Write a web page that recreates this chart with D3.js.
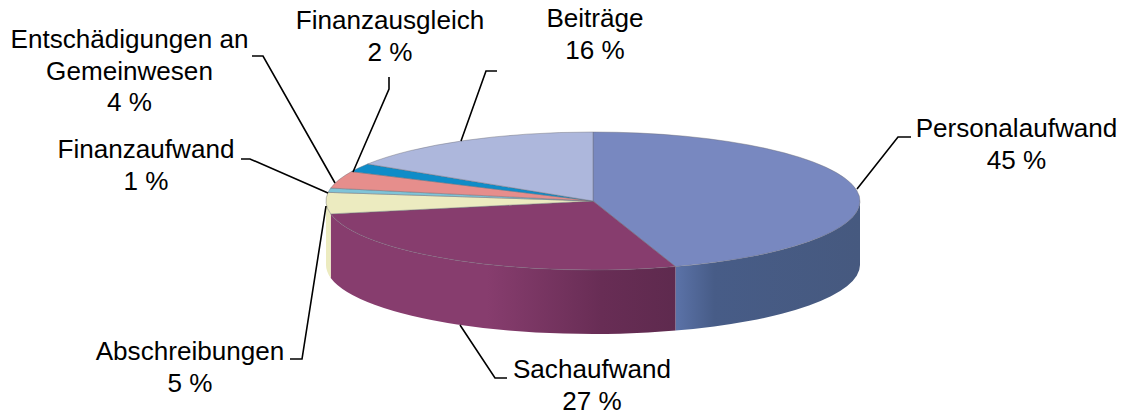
<!DOCTYPE html>
<html>
<head>
<meta charset="utf-8">
<script src="https://cdn.jsdelivr.net/npm/d3@7"></script>
<style>
  html, body { margin: 0; padding: 0; background: #fff; }
  svg { display: block; }
  text { font-family: "Liberation Sans", Arial, sans-serif; font-size: 26.1px; fill: #000; }
</style>
</head>
<body>
<div id="chart"></div>
<script>
const categories = ["Personalaufwand", "Sachaufwand", "Abschreibungen", "Finanzaufwand", "Entschädigungen an Gemeinwesen", "Finanzausgleich", "Beiträge"];
const values = [45, 27, 5, 1, 4, 2, 16];
const topColors = ["#7888c0", "#873d6e", "#ecebc0", "#7fc4d8", "#e68e8c", "#0f8cc8", "#adb7dc"];

// label lines as typed, value goes underneath
const labelLines = [["Personalaufwand"], ["Sachaufwand"], ["Abschreibungen"], ["Finanzaufwand"], ["Entschädigungen an", "Gemeinwesen"], ["Finanzausgleich"], ["Beiträge"]];
const labelX = [1016.5, 592, 190, 146, 129.5, 390, 595];
const labelY = [137, 378, 360, 158, 48, 29, 27];

const width = 1126;
const height = 415;
const cx = 593, cy = 201, rx = 267, ry = 69, depth = 64;

const svg = d3.select("#chart").append("svg")
    .attr("width", width)
    .attr("height", height);

const pie = d3.pie().sort(null);
const slices = pie(values);

// circle angle (0 = top, clockwise) to flattened ellipse
const px = a => cx + rx * Math.sin(a);
const py = a => cy - ry * Math.cos(a);

// side wall gradients
const defs = svg.append("defs");
function wallGradient(id, x1, x2, stops) {
    const g = defs.append("linearGradient")
        .attr("id", id)
        .attr("gradientUnits", "userSpaceOnUse")
        .attr("x1", x1).attr("x2", x2)
        .attr("y1", 0).attr("y2", 0);
    stops.forEach(s => g.append("stop").attr("offset", s[0]).attr("stop-color", s[1]));
}
wallGradient("wallPersonal", 678, 860, [[0, "#5a71a6"], [0.2, "#475c87"], [1, "#46597f"]]);
wallGradient("wallSach", 330, 678, [[0, "#873d6e"], [0.45, "#873d6e"], [0.78, "#682d55"], [1, "#5e2a4e"]]);

function wallPath(a0, a1) {
    let d = `M${px(a0)},${py(a0)}`;
    d += `A${rx},${ry} 0 0 1 ${px(a1)},${py(a1)}`;
    d += `L${px(a1)},${py(a1) + depth}`;
    d += `A${rx},${ry} 0 0 0 ${px(a0)},${py(a0) + depth}Z`;
    return d;
}

// only the front half shows a wall
const wallFills = ["url(#wallPersonal)", "url(#wallSach)", "#ecebc0"];
[0, 1, 2].forEach(i => {
    const a0 = Math.max(slices[i].startAngle, i === 0 ? Math.PI / 2 : 0);
    const a1 = Math.min(slices[i].endAngle, Math.PI * 1.5);
    svg.append("path")
        .attr("d", wallPath(a0, a1))
        .attr("fill", wallFills[i]);
});

// top face
svg.append("g")
    .selectAll("path")
    .data(slices)
    .join("path")
    .attr("d", d => {
        return `M${cx},${cy}L${px(d.startAngle)},${py(d.startAngle)}` +
            `A${rx},${ry} 0 ${d.endAngle - d.startAngle > Math.PI ? 1 : 0} 1 ${px(d.endAngle)},${py(d.endAngle)}Z`;
    })
    .attr("fill", (d, i) => topColors[i])
    .attr("stroke", "#6e6e78")
    .attr("stroke-opacity", 0.55)
    .attr("stroke-width", 0.8)
    .attr("stroke-linejoin", "round");

// leader lines
const leaderLines = [
    [[857, 189], [898, 137], [911, 137]],
    [[460, 325], [495, 378], [507, 378]],
    [[326, 206], [302, 359], [290, 359]],
    [[328, 193], [250, 159], [241, 159]],
    [[335, 183], [263, 56], [252, 56]],
    [[353, 172], [389, 89], [389, 77]],
    [[461, 141], [486, 71], [497, 71]]
];
svg.append("g")
    .selectAll("path")
    .data(leaderLines)
    .join("path")
    .attr("d", d3.line())
    .attr("fill", "none")
    .attr("stroke", "#000")
    .attr("stroke-width", 1.6);

// labels
const labels = svg.append("g")
    .selectAll("text")
    .data(categories)
    .join("text")
    .attr("text-anchor", "middle")
    .attr("x", (d, i) => labelX[i])
    .attr("y", (d, i) => labelY[i]);

labels.each(function (d, i) {
    const t = d3.select(this);
    labelLines[i].concat(values[i] + " %").forEach((line, j) => {
        t.append("tspan")
            .attr("x", labelX[i])
            .attr("dy", j === 0 ? 0 : 31.5)
            .text(line);
    });
});
</script>
</body>
</html>
